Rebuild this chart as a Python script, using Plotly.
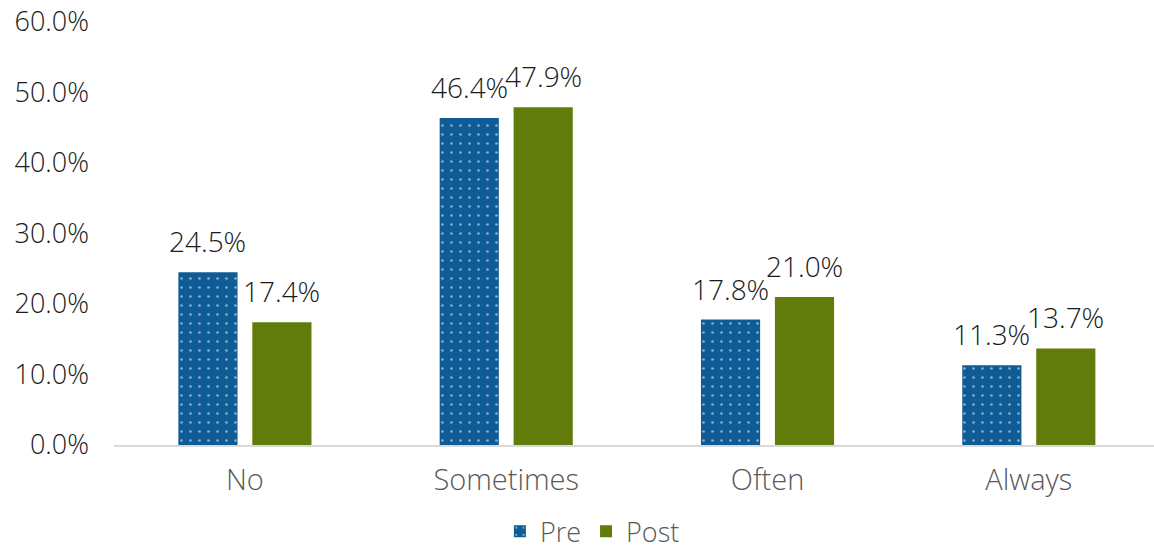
import plotly.graph_objects as go

categories = ["No", "Sometimes", "Often", "Always"]
pre_values = [0.245, 0.464, 0.178, 0.113]
post_values = [0.174, 0.479, 0.210, 0.137]
y_ticks = [0, 0.1, 0.2, 0.3, 0.4, 0.5, 0.6]

FONT = "Open Sans"
WEIGHT = 300
BLUE = "#0F5B95"
GREEN = "#617C0B"
DARK = "#1a1a1a"
GREY = "#595959"

# horizontal offset of each bar centre from its category centre (axis units)
BAR_OFFSET = 37 / 261.3

fig = go.Figure()
fig.add_trace(go.Bar(
    name="Pre", x=categories, y=pre_values,
    marker=dict(color=BLUE, line=dict(width=0),
                pattern=dict(shape=".", fgcolor="white", bgcolor=BLUE,
                             size=9, solidity=0.07)),
))
fig.add_trace(go.Bar(
    name="Post", x=categories, y=post_values,
    marker=dict(color=GREEN, line=dict(width=0)),
))

# value labels above each bar
for series, sign in ((pre_values, -1), (post_values, 1)):
    for i, v in enumerate(series):
        fig.add_annotation(
            x=i + sign * BAR_OFFSET, y=v, text=f"{v*100:.1f}%",
            showarrow=False, yanchor="bottom", yshift=10,
            font=dict(family=FONT, size=28, color=DARK, weight=WEIGHT),
        )

fig.update_layout(
    width=1154, height=553,
    margin=dict(l=114, r=0, t=22, b=108, autoexpand=False),
    paper_bgcolor="white", plot_bgcolor="white",
    barmode="group", bargap=0.434, bargroupgap=0.2,
    font=dict(family=FONT, size=28, color=GREY, weight=WEIGHT),
    showlegend=True,
    legend=dict(orientation="h", x=0.46, xanchor="center", y=-0.205, yanchor="middle",
                font=dict(family=FONT, size=27, color=GREY, weight=WEIGHT),
                traceorder="normal"),
    xaxis=dict(type="category", range=[-0.501, 3.479], showgrid=False, showline=True,
               linecolor="#D9D9D9", linewidth=2, ticks="", ticklabelstandoff=8,
               tickfont=dict(family=FONT, size=29, color=GREY, weight=WEIGHT)),
    yaxis=dict(range=[0, 0.6], tickvals=y_ticks, tickformat=".1%",
               showgrid=False, zeroline=False, showline=False, ticks="",
               ticklabelstandoff=24,
               tickfont=dict(family=FONT, size=27, color=DARK, weight=WEIGHT)),
)

fig.write_html("out.html")
